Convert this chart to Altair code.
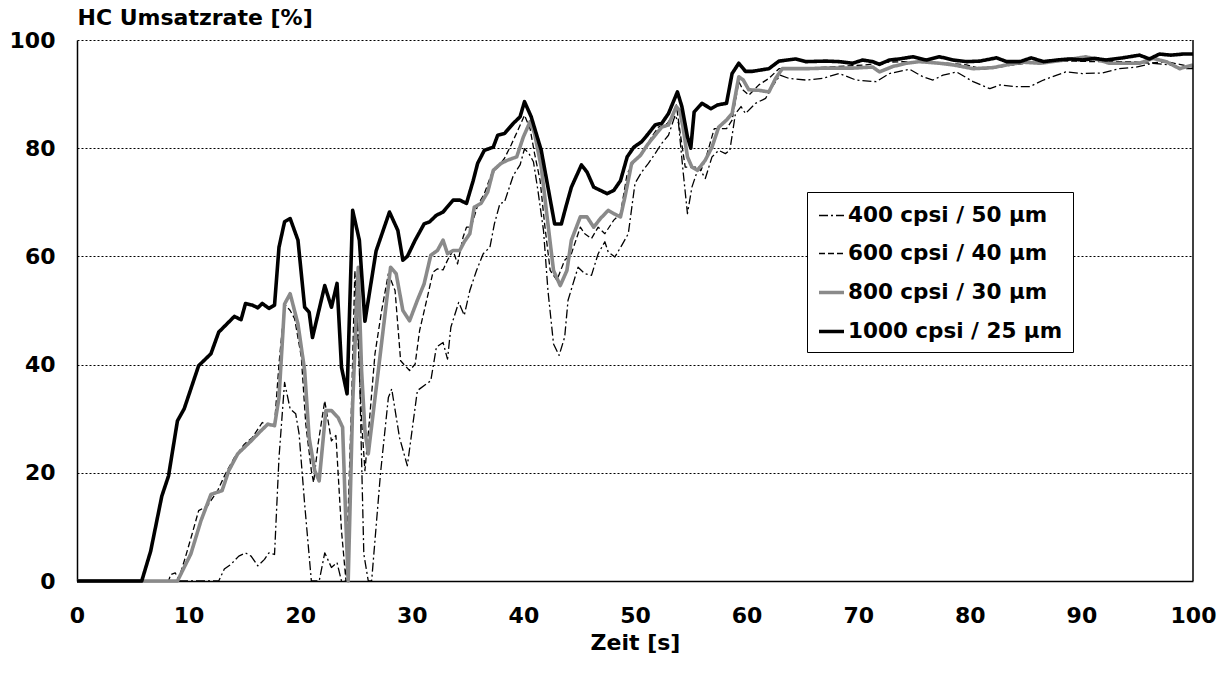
import altair as alt
import pandas as pd

series_names = ["400 cpsi / 50 µm", "600 cpsi / 40 µm", "800 cpsi / 30 µm", "1000 cpsi / 25 µm"]
series_colors = ["black", "black", "#8a8a8a", "black"]
series_dash = [[9, 3, 2, 3], [6, 3], [1, 0], [1, 0]]
series_width = [1.3, 1.3, 3.6, 3.6]

x_ticks = [0, 10, 20, 30, 40, 50, 60, 70, 80, 90, 100]
y_ticks = [0, 20, 40, 60, 80, 100]

# 400 cpsi / 50 µm (dash-dot)
t_400 = [0, 12.7, 13.2, 13.8, 14.5, 15.1, 15.6, 16.2, 16.8, 17.2, 17.7, 18.1, 18.6, 19.1, 19.6, 19.9,
         20.4, 21.0, 21.7, 22.2, 22.8, 23.3, 23.7, 24.3, 24.7, 25.0, 25.3, 25.7, 26.1, 26.4, 27.2, 27.9,
         28.2, 28.9, 29.6, 30.5, 31.7, 32.2, 32.8, 33.2, 33.5, 34.2, 34.7, 35.2, 35.8, 36.4, 37.0, 37.4,
         37.9, 38.3, 39.1, 39.7, 40.1, 40.5, 40.9, 41.3, 41.8, 42.2, 42.7, 43.2, 43.7, 44.0, 44.9, 45.5,
         46.1, 46.7, 47.3, 47.6, 48.2, 48.8, 49.4, 50.0, 50.6, 51.2, 51.8, 52.4, 53.0, 53.6, 53.9, 54.3,
         54.7, 55.1, 55.7, 56.3, 56.9, 57.5, 58.1, 58.5, 59.0, 59.5, 59.9, 60.8, 61.7, 62.3, 63.0, 63.8,
         65.3, 66.8, 68.3, 69.8, 71.6, 72.8, 74.6, 75.8, 76.7, 77.6, 78.8, 80.3, 81.8, 82.7, 83.9, 85.4,
         86.6, 87.8, 88.6, 90.1, 91.9, 93.4, 94.9, 96.4, 97.9, 99.4, 100]
v_400 = [0, 0, 2.2, 3.1, 4.6, 5.2, 4.6, 2.8, 4.0, 5.2, 4.9, 22.8, 36.7, 31.8, 30.9, 27.2,
         14.2, 0, 0, 5.2, 2.5, 3.4, 0, 0, 30, 55, 40, 5, 0, 0, 20, 33.9,
         35.5, 26.5, 21.3, 35.2, 37.0, 43.2, 44.1, 41.0, 46.9, 51.5, 49.1, 53.7, 57.4, 60.5, 61.7, 66.0,
         69.8, 70.0, 75.0, 76.9, 79.9, 79.0, 77.5, 72.2, 64.8, 53.7, 43.8, 41.7, 45.1, 51.9, 58.0, 56.8,
         56.5, 60.5, 62.7, 60.8, 59.9, 62.0, 64.2, 73.5, 75.6, 77.2, 79.0, 80.9, 82.4, 86.1, 84.6, 75.9,
         67.9, 72.8, 76.5, 74.4, 78.4, 79.6, 79.0, 79.6, 86.4, 87.7, 86.4, 88.3, 89.2, 91.4, 93.5, 92.9,
         92.6, 92.9, 93.8, 92.6, 92.3, 93.8, 94.6, 93.2, 92.6, 93.5, 94.1, 92.3, 91.0, 91.7, 91.4, 91.4,
         92.6, 93.5, 94.1, 93.8, 93.9, 94.7, 95.0, 95.7, 95.4, 94.7, 94.7]

# 600 cpsi / 40 µm (dashed)
t_600 = [0, 8.2, 8.4, 8.8, 9.1, 9.7, 10.3, 10.9, 11.7, 12.6, 13.3, 14.1, 15.0, 15.7, 16.6, 17.0,
         17.7, 18.1, 18.6, 19.1, 19.5, 20.1, 20.5, 21.0, 21.2, 21.6, 22.2, 22.8, 23.2, 23.7, 24.1, 24.6,
         24.9, 25.2, 25.5, 25.8, 26.2, 26.7, 27.3, 27.9, 28.5, 29.0, 29.8, 30.3, 30.7, 31.4, 31.9, 32.3,
         32.8, 33.2, 33.7, 34.1, 34.6, 34.9, 35.3, 35.9, 36.5, 37.1, 37.7, 38.3, 38.9, 39.5, 40.1, 40.6,
         41.0, 41.5, 41.9, 42.4, 43.0, 43.7, 44.3, 45.1, 45.5, 46.1, 46.7, 47.3, 48.1, 48.7, 49.3, 50.0,
         50.8, 51.5, 52.1, 52.9, 53.5, 53.7, 54.1, 54.5, 55.4, 55.9, 56.3, 57.1, 58.2, 58.7, 59.3, 59.7,
         60.2, 61.1, 62.0, 62.9, 65.3, 67.1, 68.9, 70.7, 72.5, 74.3, 76.1, 77.9, 79.7, 81.2, 82.7, 83.9,
         85.7, 87.4, 89.2, 91.0, 92.8, 94.6, 96.1, 97.6, 98.8, 100]
v_600 = [0, 0, 1.2, 1.5, 0.3, 4.3, 8.6, 13.0, 13.9, 16.7, 19.8, 22.8, 25.3, 26.5, 29.3, 28.7,
         29.0, 40.1, 51.2, 50.0, 48.5, 41.4, 29.0, 20.4, 18.2, 25.3, 33.3, 25.9, 26.9, 9.3, 0, 32.7,
         57.4, 43.8, 29.6, 20.4, 29.6, 42.0, 50.0, 56.8, 53.7, 40.7, 38.9, 40.1, 46.3, 52.5, 57.1, 57.7,
         57.5, 59.3, 61.1, 58.6, 63.6, 65.4, 65.4, 69.4, 71.6, 75.0, 76.5, 78.1, 80.6, 83.3, 86.1, 83.6,
         79.0, 74.0, 66.0, 57.4, 55.6, 59.3, 60.5, 65.4, 64.2, 63.3, 65.4, 64.2, 66.7, 67.9, 75.3, 77.8,
         79.6, 82.1, 83.9, 84.6, 86.4, 88.0, 82.1, 76.5, 76.5, 75.9, 77.8, 83.6, 83.6, 85.2, 92.3, 90.7,
         89.8, 91.7, 92.9, 94.7, 94.7, 95.0, 95.2, 95.4, 95.9, 96.0, 95.9, 95.7, 95.4, 94.6, 95.0, 95.4,
         95.9, 96.0, 96.1, 96.0, 96.0, 96.0, 95.7, 96.0, 95.5, 95.0]

# 800 cpsi / 30 µm (grey)
t_800 = [0, 9.0, 10.2, 11.1, 12.0, 13.0, 13.6, 14.4, 15.6, 16.5, 17.1, 17.7, 18.1, 18.6, 19.1, 19.8,
         20.4, 20.8, 21.3, 21.7, 22.3, 22.8, 23.4, 23.8, 24.1, 24.3, 24.7, 25.2, 25.5, 25.8, 26.1, 27.0,
         28.1, 28.6, 29.2, 29.8, 30.5, 31.1, 31.7, 32.3, 32.8, 33.2, 33.7, 34.3, 34.7, 35.2, 35.6, 36.2,
         36.8, 37.3, 38.0, 38.6, 39.4, 40.0, 40.6, 41.0, 41.6, 42.2, 42.7, 43.3, 43.9, 44.3, 45.1, 45.7,
         46.3, 46.9, 47.6, 48.1, 48.7, 49.1, 49.7, 50.5, 51.1, 51.8, 52.4, 53.0, 53.7, 54.0, 54.3, 54.7,
         55.1, 55.6, 56.3, 56.9, 57.5, 58.2, 58.7, 59.3, 59.7, 60.2, 61.1, 62.0, 62.6, 63.2, 65.3, 67.1,
         69.5, 71.3, 71.9, 73.1, 74.3, 75.5, 77.3, 78.5, 80.3, 82.1, 83.3, 84.8, 86.3, 88.1, 89.2, 90.4,
         91.6, 92.5, 95.2, 96.4, 97.6, 98.8, 100]
v_800 = [0, 0, 5.0, 11.1, 16.0, 16.7, 20.4, 23.5, 25.9, 27.8, 29.0, 28.7, 33.9, 51.2, 53.1, 47.5,
         38.9, 26.5, 20.4, 18.5, 31.5, 31.5, 30.2, 28.4, 10.5, 0, 32.7, 58.0, 38.9, 27.8, 23.5, 38.9,
         58.0, 56.8, 50.0, 48.1, 51.9, 54.9, 60.2, 61.1, 63.0, 60.5, 61.1, 61.1, 62.7, 64.2, 69.1, 69.8,
         71.9, 75.9, 77.2, 77.8, 78.4, 82.1, 84.9, 82.7, 76.5, 66.0, 57.4, 54.6, 57.4, 63.0, 67.3, 67.3,
         65.4, 67.0, 68.5, 67.9, 67.3, 71.0, 77.2, 78.7, 80.6, 82.4, 83.9, 84.3, 87.7, 87.0, 83.9, 78.4,
         76.5, 75.9, 77.8, 80.2, 83.9, 85.2, 86.4, 93.2, 92.6, 90.8, 90.7, 90.4, 92.9, 94.7, 94.7, 94.8,
         94.8, 95.0, 94.1, 95.1, 95.7, 96.0, 95.7, 95.4, 94.7, 94.9, 95.4, 95.9, 95.7, 96.2, 96.5, 96.9,
         96.3, 95.7, 95.7, 96.6, 96.0, 94.7, 95.4]

# 1000 cpsi / 25 µm (black, solid)
t_1000 = [0, 5.8, 6.6, 7.6, 8.2, 9.0, 9.6, 10.9, 12.0, 12.7, 14.1, 14.7, 15.1, 15.7, 16.2, 16.6,
          17.2, 17.7, 18.1, 18.6, 19.1, 19.8, 20.4, 20.8, 21.1, 22.2, 22.8, 23.3, 23.7, 24.2, 24.7, 25.3,
          25.8, 26.8, 28.0, 28.75, 29.2, 29.6, 30.3, 31.1, 31.6, 32.2, 32.8, 33.7, 34.3, 34.9, 35.5, 35.9,
          36.5, 37.3, 37.7, 38.3, 39.1, 39.7, 40.1, 40.7, 41.6, 42.2, 42.8, 43.4, 43.8, 44.3, 45.2, 45.7,
          46.3, 46.9, 47.5, 48.1, 48.7, 49.3, 49.9, 50.6, 51.2, 51.8, 52.4, 53.0, 53.8, 54.2, 54.7, 55.0,
          55.3, 56.0, 56.8, 57.4, 58.2, 58.7, 59.3, 59.9, 60.5, 61.1, 62.0, 62.9, 64.4, 65.3, 67.1, 68.3,
          69.5, 70.4, 71.3, 71.9, 72.8, 73.7, 74.9, 76.1, 77.3, 78.5, 79.7, 80.9, 82.4, 83.3, 84.5, 85.5,
          86.6, 87.8, 89.0, 90.1, 91.2, 92.2, 93.7, 95.2, 96.1, 97.0, 98.0, 99.1, 100]
v_1000 = [0, 0, 5.5, 15.7, 19.4, 29.6, 31.8, 39.8, 42.0, 46.0, 48.9, 48.3, 51.3, 51.0, 50.5, 51.3,
          50.4, 51.0, 61.7, 66.4, 67.0, 63.0, 50.6, 49.7, 45.0, 54.6, 50.6, 55.0, 39.5, 34.6, 68.5, 63.0,
          48.0, 61.0, 68.2, 64.8, 59.3, 60.0, 63.0, 66.0, 66.4, 67.6, 68.2, 70.4, 70.4, 69.8, 74.0, 77.2,
          79.6, 80.2, 82.4, 82.7, 84.6, 85.8, 88.6, 85.8, 79.6, 72.8, 66.0, 66.0, 69.1, 72.8, 76.9, 75.6,
          72.8, 72.2, 71.6, 72.2, 74.0, 78.4, 80.2, 81.2, 82.7, 84.3, 84.6, 86.4, 90.4, 87.7, 82.1, 80.0,
          86.7, 88.3, 87.3, 88.0, 88.3, 93.8, 95.7, 94.2, 94.2, 94.4, 94.7, 96.1, 96.5, 96.0, 96.1, 96.0,
          95.7, 96.3, 96.0, 95.5, 96.3, 96.5, 96.9, 96.3, 96.9, 96.3, 96.0, 96.1, 96.7, 96.0, 96.0, 96.7,
          96.0, 96.3, 96.5, 96.3, 96.6, 96.3, 96.7, 97.2, 96.5, 97.4, 97.2, 97.4, 97.4]

all_t = [t_400, t_600, t_800, t_1000]
all_v = [v_400, v_600, v_800, v_1000]

rows = []
for name, ts, vs in zip(series_names, all_t, all_v):
    for i, (t, v) in enumerate(zip(ts, vs)):
        rows.append({"Serie": name, "Zeit": t, "Umsatz": v, "i": i})
df = pd.DataFrame(rows)

FONT = "DejaVu Sans"

x_axis = alt.Axis(
    values=x_ticks, title="Zeit [s]", grid=False, ticks=False,
    labelFont=FONT, labelFontSize=22, labelFontWeight="bold", labelColor="black",
    labelPadding=24, labelFlush=False,
    titleFont=FONT, titleFontSize=22, titleFontWeight="bold", titleColor="black",
    titlePadding=6, domainColor="black", domainWidth=1.5,
)
y_axis = alt.Axis(
    values=y_ticks, title="HC Umsatzrate [%]", ticks=False,
    grid=True, gridColor="black", gridDash=[2, 2], gridWidth=1, gridOpacity=1,
    labelFont=FONT, labelFontSize=22, labelFontWeight="bold", labelColor="black",
    labelPadding=22, labelFlush=False,
    titleFont=FONT, titleFontSize=22, titleFontWeight="bold", titleColor="black",
    titleAngle=0, titleAlign="left", titleBaseline="alphabetic", titleX=0, titleY=-16,
    domainColor="black", domainWidth=1.5,
)

x_scale = alt.Scale(domain=[0, 100], nice=False, zero=False)
y_scale = alt.Scale(domain=[0, 100], nice=False)

lines = alt.Chart(df).mark_line(strokeJoin="round").encode(
    x=alt.X("Zeit:Q", scale=x_scale, axis=x_axis),
    y=alt.Y("Umsatz:Q", scale=y_scale, axis=y_axis),
    color=alt.Color(
        "Serie:N", title=None,
        scale=alt.Scale(domain=series_names, range=series_colors),
        legend=alt.Legend(
            orient="none", legendX=730, legendY=152, direction="vertical",
            fillColor="white", strokeColor="black", padding=10,
            labelFont=FONT, labelFontSize=21.5, labelFontWeight="bold", labelColor="black",
            labelLimit=400, labelOffset=2, symbolType="stroke", symbolSize=625, rowPadding=14,
        ),
    ),
    strokeDash=alt.StrokeDash(
        "Serie:N", title=None,
        scale=alt.Scale(domain=series_names, range=series_dash),
    ),
    strokeWidth=alt.StrokeWidth(
        "Serie:N", title=None,
        scale=alt.Scale(type="ordinal", domain=series_names, range=series_width),
    ),
    order="i:Q",
)

border_df = pd.DataFrame({"Zeit": [100], "lo": [0], "hi": [100]})
border = alt.Chart(border_df).mark_rule(color="black", strokeWidth=1.5).encode(
    x=alt.X("Zeit:Q", scale=x_scale),
    y=alt.Y("lo:Q", scale=y_scale),
    y2="hi:Q",
)

chart = alt.layer(lines, border).properties(
    width=1116, height=541,
    autosize=alt.AutoSizeParams(type="none"),
    padding={"left": 77, "top": 40, "right": 33, "bottom": 96},
    background="white",
).configure_view(strokeWidth=0)

chart.save("out.html", embed_options={"renderer": "svg", "actions": False})
